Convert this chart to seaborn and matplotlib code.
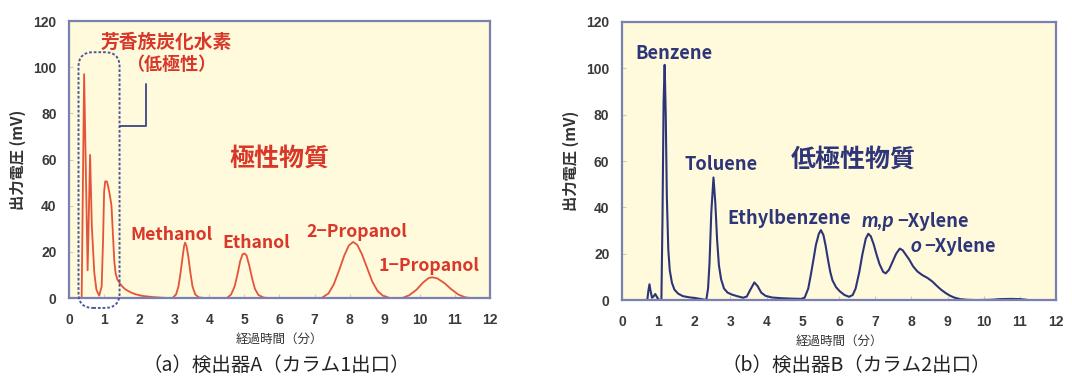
import matplotlib
matplotlib.use("Agg")
import matplotlib.pyplot as plt
import seaborn as sns
import pandas as pd
from matplotlib.patches import FancyBboxPatch

# ---------------- data ----------------
time_a = [0.36, 0.43, 0.53, 0.60, 0.65, 0.72, 0.78, 0.86, 0.93, 0.97, 1.00, 1.03,
          1.08, 1.12, 1.17, 1.21, 1.25, 1.29, 1.33, 1.38, 1.45, 1.52, 1.60, 1.75,
          1.90, 2.10, 2.40, 2.70, 2.95,
          3.05, 3.12, 3.18, 3.24, 3.28, 3.31, 3.35, 3.40, 3.46, 3.52, 3.60, 3.70, 3.85,
          4.50, 4.62, 4.72, 4.80, 4.88, 4.95, 5.00, 5.06, 5.14, 5.22, 5.30, 5.40, 5.55, 5.70,
          7.20, 7.40, 7.55, 7.70, 7.85, 7.98, 8.10, 8.22, 8.35, 8.50, 8.65, 8.80, 8.95, 9.15,
          9.50, 9.70, 9.90, 10.10, 10.25, 10.35, 10.50, 10.70, 10.90, 11.10, 11.30, 11.45]
signal_a = [0, 97, 12, 62, 31, 11, 3.6, 1, 5, 25, 46, 50.5,
            50.5, 48, 44, 40, 28, 16, 10.5, 8, 6.3, 5.0, 3.8, 2.5,
            1.6, 0.9, 0.4, 0.1, 0,
            1.5, 5, 11, 18, 22.5, 24, 22.5, 18, 11, 5, 1.5, 0.3, 0,
            0, 1.5, 5, 10, 16, 19, 19.3, 18.5, 14, 8.5, 4, 1.3, 0.2, 0,
            0, 2, 6, 12, 18.5, 22.8, 24.3, 23, 19, 13, 7, 3, 1, 0,
            0, 1.2, 3.5, 6.8, 8.6, 9, 8.5, 6.5, 3.8, 1.5, 0.3, 0]

time_b = [0.70, 0.73, 0.76, 0.79, 0.83, 0.87, 0.92, 0.96, 1.00, 1.06, 1.09,
          1.12, 1.15, 1.18, 1.21, 1.24, 1.28, 1.32, 1.38, 1.45, 1.55, 1.68, 1.85,
          2.05, 2.20, 2.33, 2.38, 2.42, 2.47, 2.53, 2.58, 2.63, 2.68, 2.74, 2.82,
          2.92, 3.05, 3.20, 3.35, 3.45, 3.55, 3.66, 3.75, 3.85, 3.97, 4.15, 4.40,
          4.70, 4.95, 5.05, 5.15, 5.22, 5.30, 5.36, 5.44, 5.50, 5.57, 5.63, 5.70,
          5.76, 5.82, 5.92, 6.02, 6.15, 6.28, 6.38, 6.46, 6.56, 6.65, 6.74, 6.81,
          6.88, 6.96, 7.04, 7.12, 7.22, 7.29, 7.38, 7.48, 7.58, 7.68, 7.76, 7.85,
          7.94, 8.05, 8.17, 8.30, 8.45, 8.58, 8.70, 8.82, 8.95, 9.08, 9.20, 9.35,
          9.55, 9.80, 10.20, 10.45, 10.75, 11.00, 11.20]
signal_b = [0, 4, 6.8, 4, 1, 1.5, 2.6, 1.5, 0.3, 0, 0,
            35, 85, 101.5, 80, 45, 22, 13, 7.5, 4.5, 2.8, 1.7, 1.2,
            0.8, 0.4, 0, 5, 16, 38, 52.9, 42, 26, 15, 9, 5,
            3.2, 2.3, 1.6, 1.0, 1.5, 4.5, 7.6, 6, 3.2, 1.8, 1.1, 0.8,
            0.6, 0.5, 1, 5, 10.8, 18, 23.7, 28.5, 30.2, 28, 23.5, 17,
            12, 8.5, 5.5, 3.8, 2.2, 1.4, 2.2, 5, 12, 20, 26.5, 28.6,
            27.5, 24, 19.5, 15.5, 12.2, 11.5, 13, 16.5, 20, 22.2, 21.5, 19.5,
            17.5, 14.5, 12.3, 10.8, 9.5, 8, 6.2, 4.5, 3, 1.8, 1, 0.4,
            0.1, 0, 0.1, 0.4, 0.5, 0.4, 0.1]

labels_a = ["Methanol", "Ethanol", "2\u2212Propanol", "1\u2212Propanol"]
labels_b = ["Benzene", "Toluene", "Ethylbenzene"]
x_ticks = list(range(0, 13))
y_ticks = [0, 20, 40, 60, 80, 100, 120]

# ---------------- style ----------------
sns.set_theme(style="ticks")
plt.rcParams['font.family'] = ['Noto Sans CJK JP', 'DejaVu Sans']
plt.rcParams['axes.unicode_minus'] = False

RED_LINE = "#e4533a"
RED_TXT = "#d8372a"
NAVY_LINE = "#2e3478"
NAVY_TXT = "#2f3579"
BG = "#fefadb"
FRAME = "#7b80b2"
TICKTXT = "#3a3a3a"

fig = plt.figure(figsize=(10.72, 3.76), dpi=100)
axA = fig.add_axes([0.0644, 0.2074, 0.3926, 0.7366])
axB = fig.add_axes([0.5802, 0.2020, 0.4049, 0.7395])

dfA = pd.DataFrame({"t": time_a, "mV": signal_a})
dfB = pd.DataFrame({"t": time_b, "mV": signal_b})

sns.lineplot(data=dfA, x="t", y="mV", ax=axA, color=RED_LINE, lw=1.3,
             sort=False, estimator=None)
sns.lineplot(data=dfB, x="t", y="mV", ax=axB, color=NAVY_LINE, lw=1.5,
             sort=False, estimator=None)

for ax in (axA, axB):
    ax.set_facecolor(BG)
    ax.set_xlim(0, 12)
    ax.set_ylim(0, 120)
    ax.set_xticks(x_ticks)
    ax.set_yticks(y_ticks)
    for s in ax.spines.values():
        s.set_color(FRAME)
        s.set_linewidth(1.6)
    ax.tick_params(direction="in", length=3, width=0.8, color="#c8c8d8",
                   labelsize=10, labelcolor=TICKTXT)
    ax.tick_params(axis="x", pad=11)
    ax.tick_params(axis="y", pad=9)
    for lab in ax.get_xticklabels() + ax.get_yticklabels():
        lab.set_fontweight("bold")
        lab.set_family(["Liberation Sans", "DejaVu Sans"])
    ax.set_xlabel("経過時間（分）", fontsize=9, color="#333333", labelpad=4)
    ax.set_ylabel("出力電圧 (mV)", fontsize=11, fontweight="bold",
                  color="#333333", labelpad=5)

# ---- panel A annotations ----
box = FancyBboxPatch((0.27, -4.3), 1.17, 110.8,
                     boxstyle="round,pad=0,rounding_size=0.42",
                     mutation_aspect=15, fill=False, ec="#4f5799",
                     lw=1.4, ls=(0, (1.4, 1.0)), clip_on=False, zorder=5)
axA.add_patch(box)
axA.plot([1.44, 2.2, 2.2], [74.5, 74.5, 92.6], color="#3d4585", lw=1.3,
         clip_on=False, zorder=5)
axA.text(2.77, 111, "芳香族炭化水素", color=RED_TXT, fontsize=13.5,
         fontweight="bold", ha="center", va="center")
axA.text(2.9, 101, "（低極性）", color=RED_TXT, fontsize=13,
         fontweight="bold", ha="center", va="center")
axA.text(6.0, 60.5, "極性物質", color=RED_TXT, fontsize=18,
         fontweight="bold", ha="center", va="center")
pos_a = [(2.93, 27.4), (5.34, 23.8), (8.2, 28.5), (10.26, 13.7)]
for lab, (x, y) in zip(labels_a, pos_a):
    axA.text(x, y, lab, color=RED_TXT, fontsize=12.7, fontweight="bold",
             ha="center", va="center")

# ---- panel B annotations ----
pos_b = [(1.45, 106.5), (2.75, 58.3), (4.61, 35.3)]
for lab, (x, y) in zip(labels_b, pos_b):
    axB.text(x, y, lab, color=NAVY_TXT, fontsize=13.2, fontweight="bold",
             ha="center", va="center")
axB.text(6.4, 60.4, "低極性物質", color=NAVY_TXT, fontsize=18,
         fontweight="bold", ha="center", va="center")
t1 = axB.text(6.63, 31.6, "m,p", color=NAVY_TXT, fontsize=15,
              style="italic", fontweight="bold", family=["Lato", "DejaVu Sans"],
              ha="left", va="baseline")
axB.annotate("\u2212Xylene", xy=(1.0, 0.0), xycoords=t1, xytext=(2, 0),
             textcoords="offset points", color=NAVY_TXT, fontsize=13.2,
             fontweight="bold", ha="left", va="bottom")
t2 = axB.text(7.97, 20.8, "o", color=NAVY_TXT, fontsize=15,
              style="italic", fontweight="bold", family=["Lato", "DejaVu Sans"],
              ha="left", va="baseline")
axB.annotate("\u2212Xylene", xy=(1.0, 0.0), xycoords=t2, xytext=(2, 0),
             textcoords="offset points", color=NAVY_TXT, fontsize=13.2,
             fontweight="bold", ha="left", va="bottom")

# ---- captions ----
fig.text(0.258, 0.027, "（a）検出器A（カラム1出口）", fontsize=14,
         color="#222222", ha="center", va="center")
fig.text(0.799, 0.027, "（b）検出器B（カラム2出口）", fontsize=14,
         color="#222222", ha="center", va="center")

fig.savefig("out.png", dpi=100, facecolor="white")
